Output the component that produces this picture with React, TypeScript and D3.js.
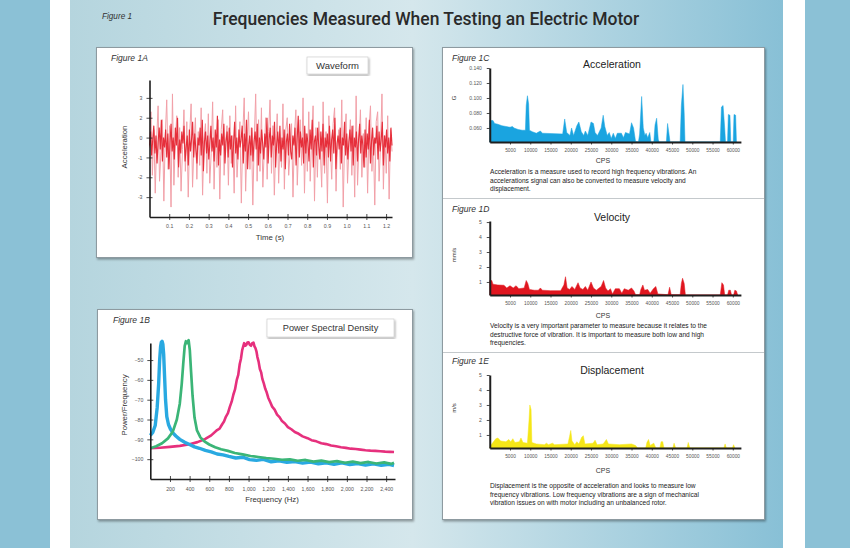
import React, { useRef, useEffect } from "react";
import * as d3 from "d3";

const FONT = "'Liberation Sans', Arial, Helvetica, sans-serif";

// Figure 1A - waveform (acceleration vs time), sampled evenly over the record
const waveDuration = 1.23;
const waveSpikes = [
  0.5, 2.3, -0.9, 1.4, -1.8, 0.9, 2.6, -1.2, 0.3, 1.9, -2.2, 1.1, 2.9, -0.6, 1.6, -2.5, 3.2, -1.4, 0.8, 2.1,
  -1.0, 1.5, -1.7, 0.4, 2.4, -0.7, 1.8, -2.0, 1.2, 2.7, -1.5, 0.6, 2.0, -1.1, 1.3, -0.4, 2.5, -1.9, 0.9, 1.7,
  -0.8, 2.2, -1.3, 0.2, 2.8, -1.6, 1.0, -0.5, 1.9, -2.1, 1.4, 2.4, -0.9, 0.7, 1.6, -1.4, 2.1, -0.3, 1.1, -1.8,
  2.6, -1.0, 0.5, 1.8, -2.3, 1.2, 3.0, -1.7, 0.8, 2.3, -0.6, 1.5, -2.4, 0.9, 3.2, -1.2, 1.9, -0.7, 2.5, -1.5,
  0.4, 2.0, -1.1, 1.3, 2.9, -0.8, 1.6, -1.9, 0.6, 2.2, -1.3, 1.0, -0.5, 2.7, -1.6, 1.4, 2.0, -0.9, 0.3, 1.7,
  -2.0, 1.1, 2.4, -1.4, 0.7, 1.9, -0.4, 3.0, -1.8, 1.2, -0.7, 2.3, -1.2, 0.9, 2.6, -2.2, 1.5, -1.0, 1.8, 0.4,
  -1.5, 2.8, -0.8, 1.3, -2.3, 2.1, 0.6, -1.1, 1.7, 2.5, -1.7, 0.8, 1.4, -0.6, 2.9, -2.5, 1.0, 2.2, -1.3, 0.5,
  1.9, -0.9, 1.6, -2.0, 3.1, -1.4, 0.7, 2.4, -1.0, 1.2, -0.5, 2.0, -1.8, 1.5, 2.6, -0.7, 0.9, -2.4, 1.8, 2.3,
  -1.2, 0.6, 3.2, -1.6, 1.1, -0.8, 2.1, -2.1, 1.4, 0.3,
];
const waveCore = [
  0.6, 1.3, 0.1, 0.9, 1.6, 0.2, 1.1, -0.3, 0.8, 1.5, 0.4, 1.9, -0.2, 1.0, 0.5, 1.4, 0.0, 1.2, -0.6, 0.7,
  1.7, 0.3, 1.0, -0.1, 1.5, 0.6, 2.0, -0.5, 0.9, 0.2, 1.3, 0.7, 1.6, -0.2, 0.5, 1.1, -0.4, 1.4, 0.3, 0.9,
  1.8, 0.0, 1.2, 0.4, -0.3, 1.0, 0.6, 1.5, 0.1, 1.9, -0.7, 0.8, 1.3, 0.2, 1.1, -0.1, 0.7, 1.6, 0.3, 1.0,
  -0.2, 1.4, 0.5, 2.1, -0.4, 0.9, 0.1, 1.2, 0.6, 1.7, -0.3, 0.8, 1.3, 0.0, 1.5, 0.4, 1.1, -0.5, 0.7, 1.8,
  0.2, 1.0, -0.1, 1.4, 0.5, 0.9, 1.6, -0.3, 1.2, 0.3, 1.9, -0.6, 0.6, 1.1, 0.1, 1.5, -0.2, 0.8, 1.3, 0.4,
  1.7, -0.4, 1.0, 0.2, 1.4, 0.7, -0.1, 1.2, 0.5, 2.0, -0.3, 0.9, 1.5, 0.0, 1.1, 0.6, 1.8, -0.5, 0.7, 1.3,
  0.2, 1.6, -0.2, 1.0, 0.4, 1.4, -0.6, 0.8, 1.2, 0.1, 1.7, 0.3, -0.1, 1.1, 0.6, 1.5, -0.4, 0.9, 2.1, 0.0,
  1.3, 0.5, 1.0, -0.3, 1.6, 0.2, 1.2, 0.7, -0.2, 1.4, 0.4, 1.9, -0.5, 0.8, 1.1, 0.1, 1.5, 0.6, -0.1, 1.3,
  0.3, 1.7, -0.4, 1.0, 0.5, 1.2, 0.0, 1.6, -0.2, 0.9, 1.4, 0.2, 2.0, -0.6, 0.7, 1.1, 0.4, 1.5, -0.3, 1.0,
  0.6, 1.8, 0.1, 1.2, -0.1, 0.8, 1.4, 0.3, 1.6, -0.4, 1.0, 0.5, 1.3, -0.2, 0.9, 1.7, 0.2, 1.1, 0.6, -0.5,
  1.4, 0.0, 1.2, 0.4, 1.9, -0.3, 0.8, 1.5, 0.1, 1.0, 0.7, 1.6, -0.1, 1.3, 0.3, 0.9, 1.8, -0.4, 1.1, 0.5,
  1.4, 0.2, 1.0, -0.2, 1.5, 0.6,
];
const waveTicksX = [0.1, 0.2, 0.3, 0.4, 0.5, 0.6, 0.7, 0.8, 0.9, 1.0, 1.1, 1.2];
const waveTicksY = [3, 2, 1, 0, -1, -2];
const waveTickLabelsY = ["3", "2", "0", "-1", "-2", "-3"];

// Figure 1B - power spectral density (dB/Hz)
const psdBlueHz = [0, 25, 50, 70, 85, 95, 105, 112, 120, 128, 136, 145, 155, 168, 185, 205, 230, 260, 300, 350,
  400, 450, 500, 560, 620, 680, 740, 800, 870, 940, 1010, 1080, 1150, 1230, 1310, 1390, 1470, 1550, 1630, 1710,
  1790, 1870, 1950, 2030, 2110, 2190, 2270, 2350, 2430, 2480];
const psdBlueDb = [-88, -86.5, -83, -74, -62, -50, -43, -41, -40.5, -42, -47, -58, -70, -78.5, -82.5, -84.8, -86.7, -88.3, -90, -91.5,
  -92.6, -93.8, -94.5, -95.6, -96.3, -97.4, -97.8, -98.6, -99.4, -99.0, -100.2, -100.6, -100.1, -101.3, -100.8, -101.6, -101.2, -102.0, -101.5, -102.3,
  -101.8, -102.6, -101.9, -102.7, -102.2, -103.0, -102.4, -103.1, -102.6, -103.2];
const psdGreenHz = [0, 60, 120, 180, 230, 270, 300, 320, 335, 350, 362, 375, 390, 402, 415, 430, 450, 475, 510, 550,
  600, 660, 720, 790, 860, 940, 1020, 1100, 1180, 1260, 1340, 1420, 1500, 1580, 1660, 1740, 1820, 1900, 1980, 2060,
  2140, 2220, 2300, 2380, 2450, 2480];
const psdGreenDb = [-94.5, -93.5, -92, -89.5, -86, -80, -72, -62, -52, -43, -40.5, -41.5, -40, -45, -56, -68, -79, -85.5, -89, -91,
  -92.6, -94, -95, -95.8, -96.9, -97.6, -98.4, -98.9, -99.4, -99.8, -100.3, -100.1, -100.8, -100.4, -101.2, -100.7, -101.5, -101.0, -101.8, -101.2,
  -102.0, -101.4, -102.2, -101.6, -102.4, -101.8];
const psdPinkHz = [0, 100, 200, 300, 400, 480, 560, 620, 680, 705, 730, 750, 770, 790, 810, 828, 845, 862, 880, 895,
  910, 922, 935, 945, 955, 965, 975, 988, 1000, 1012, 1025, 1038, 1050, 1060, 1070, 1080, 1090, 1102, 1115, 1128,
  1140, 1155, 1170, 1185, 1200, 1220, 1240, 1265, 1290, 1315, 1340, 1370, 1400, 1435, 1470, 1510, 1550, 1600, 1640, 1690,
  1740, 1790, 1840, 1890, 1940, 1990, 2040, 2090, 2140, 2190, 2240, 2290, 2340, 2390, 2440, 2480];
const psdPinkDb = [-94.5, -94.2, -93.8, -93.3, -92.5, -91.4, -89.8, -88, -85.3, -84.6, -82.5, -81.0, -78.5, -76.8, -73.5, -71.0, -67.5, -64.8, -60, -57.5,
  -52, -49.5, -45, -43.2, -41.5, -42.8, -42.5, -41.2, -41, -42.3, -42.8, -41.5, -41.2, -43.1, -44, -45.6, -48.5, -50.8, -54.5, -56.2,
  -59.5, -61.8, -64.5, -66.4, -69, -71.2, -73.5, -75.0, -77.5, -78.8, -80.8, -82.0, -83.8, -84.9, -86.3, -87.2, -88.5, -89.4, -90.4, -91.0,
  -92, -92.4, -93.1, -93.5, -94, -94.3, -94.7, -94.9, -95.2, -95.5, -95.7, -95.8, -96, -96.2, -96.3, -96.4];
const psdTicksX = [200, 400, 600, 800, 1000, 1200, 1400, 1600, 1800, 2000, 2200, 2400];
const psdTicksY = [-50, -60, -70, -80, -90, -100];

// Figure 1C - acceleration spectrum (G)
const accelCps = [0, 800, 1200, 2000, 3000, 4000, 5000, 5600, 6000, 7000, 8000, 8800, 9000, 9300, 9600, 9800, 10500, 11500, 12500, 13000,
  18000, 18500, 19000, 19800, 20200, 20700, 21500, 22000, 22600, 23200, 23600, 24200, 25000, 25600, 26000, 26600, 27500, 28000, 28400, 29000,
  29500, 30000, 30500, 31000, 31500, 32500, 33000, 33500, 34500, 35000, 35500, 36000, 36700, 37000, 37500, 37900, 38300, 38600, 39000, 39500,
  39800, 40500, 40800, 41200, 41600, 41800, 43600, 43900, 44300, 44500, 47000, 47300, 47700, 48000, 48200, 56900, 57200, 57600, 58000, 58200,
  58700, 58900, 59300, 59500, 60100, 60300, 60700, 60900];
const accelG = [0.070, 0.070, 0.066, 0.065, 0.063, 0.062, 0.061, 0.062, 0.060, 0.058, 0.057, 0.057, 0.090, 0.103, 0.092, 0.057, 0.055, 0.053, 0.056, 0.053,
  0.052, 0.072, 0.054, 0.050, 0.060, 0.050, 0.063, 0.068, 0.055, 0.050, 0.056, 0.050, 0.068, 0.066, 0.054, 0.050, 0.060, 0.077, 0.062, 0.050,
  0.054, 0.046, 0.053, 0.046, 0.053, 0.053, 0.047, 0.054, 0.052, 0.067, 0.060, 0.042, 0.0413, 0.052, 0.102, 0.060, 0.050, 0.053, 0.047, 0.054,
  0.0413, 0.0413, 0.064, 0.073, 0.045, 0.0413, 0.0413, 0.066, 0.050, 0.0413, 0.0413, 0.090, 0.118, 0.080, 0.0413, 0.0413, 0.088, 0.090, 0.060, 0.0413,
  0.0413, 0.078, 0.077, 0.0413, 0.0413, 0.078, 0.077, 0.0413];

// Figure 1D - velocity spectrum (mm/s)
const velCps = [0, 500, 800, 2000, 3500, 4200, 5000, 5800, 6500, 7200, 8500, 9000, 9400, 9800, 11000, 12000, 12500, 13000, 15000, 17500,
  18300, 18700, 19100, 19700, 20300, 21000, 21800, 22300, 23000, 23600, 24200, 25000, 25600, 26300, 27500, 28100, 28600, 29200, 29800, 30300,
  31000, 32000, 32600, 33200, 34200, 35000, 35600, 36000, 37000, 37300, 37800, 38200, 39000, 39600, 40400, 41000, 41500, 44000, 44400, 44800,
  47000, 47300, 47600, 48000, 48300, 56900, 57300, 57700, 58000, 58700, 59000, 59400, 59700, 60200, 60500, 60900, 61200];
const velMms = [1.1, 1.1, 0.85, 0.8, 0.78, 0.6, 0.75, 0.6, 0.75, 0.55, 0.6, 1.1, 0.9, 0.5, 0.45, 0.45, 0.6, 0.45, 0.42, 0.42,
  0.8, 1.35, 0.6, 0.5, 0.7, 0.5, 0.95, 0.6, 0.5, 0.7, 0.45, 1.0, 0.6, 0.45, 0.7, 1.1, 0.6, 0.4, 0.55, 0.2,
  0.55, 0.55, 0.25, 0.55, 0.45, 0.6, 0.4, 0.15, 0.15, 0.5, 0.8, 0.45, 0.5, 0.25, 0.55, 0.7, 0.2, 0.15, 0.65, 0.15,
  0.15, 0.9, 1.25, 0.9, 0.13, 0.13, 0.95, 0.8, 0.13, 0.13, 0.45, 0.45, 0.13, 0.13, 0.45, 0.4, 0.13];

// Figure 1E - displacement spectrum (m/s)
const dispCps = [0, 500, 1500, 2000, 2700, 4000, 4700, 5200, 5700, 6200, 7300, 7700, 8200, 9300, 9700, 9900, 10200, 10400, 11500, 13500,
  14000, 14500, 15500, 16000, 19300, 19700, 20000, 20300, 21000, 21500, 22000, 22700, 23100, 23500, 25500, 26000, 26500, 28000, 28800, 29300,
  32000, 35000, 36000, 36500, 38500, 38800, 39200, 39600, 40500, 41000, 42000, 42300, 42700, 43000, 45200, 45500, 45900, 48700, 49000, 49400,
  57800, 58100, 58400, 59900, 60200, 60500];
const dispMs = [0.15, 0.4, 0.75, 0.8, 0.6, 0.55, 0.7, 0.55, 0.75, 0.5, 0.55, 0.8, 0.5, 0.45, 2.0, 3.0, 2.7, 0.5, 0.4, 0.35,
  0.45, 0.35, 0.45, 0.35, 0.4, 0.9, 1.3, 0.6, 0.35, 0.55, 0.4, 0.85, 0.95, 0.4, 0.45, 0.65, 0.35, 0.4, 0.7, 0.4,
  0.35, 0.4, 0.3, 0.13, 0.13, 0.5, 0.7, 0.3, 0.45, 0.13, 0.13, 0.55, 0.55, 0.13, 0.13, 0.45, 0.13, 0.13, 0.5, 0.13,
  0.13, 0.4, 0.13, 0.13, 0.35, 0.13];

const cpsTicks = [5000, 10000, 15000, 20000, 25000, 30000, 35000, 40000, 45000, 50000, 55000, 60000];
const accelTicks = [0.06, 0.08, 0.1, 0.12, 0.14];
const unitTicks = [1, 2, 3, 4, 5];

const accelText = [
  "Acceleration is a measure used to record high frequency vibrations. An",
  "accelerations signal can also be converted to measure velocity and",
  "displacement.",
];
const velText = [
  "Velocity is a very important parameter to measure because it relates to the",
  "destructive force of vibration. It is important to measure both low and high",
  "frequencies.",
];
const dispText = [
  "Displacement is the opposite of acceleration and looks to measure low",
  "frequency vibrations. Low frequency vibrations are a sign of mechanical",
  "vibration issues on with motor including an unbalanced rotor.",
];

function App() {
  const ref = useRef<SVGSVGElement>(null);

  useEffect(() => {
    const svg = d3.select(ref.current);
    svg.selectAll("*").remove();

    const defs = svg.append("defs");
    const grad = defs.append("linearGradient").attr("id", "panelGrad")
      .attr("x1", "0").attr("x2", "1").attr("y1", "0").attr("y2", "0");
    grad.append("stop").attr("offset", "0").attr("stop-color", "#b5d5de");
    grad.append("stop").attr("offset", "0.48").attr("stop-color", "#d5e7ec");
    grad.append("stop").attr("offset", "1").attr("stop-color", "#88c0d6");
    const shadow = defs.append("filter").attr("id", "shadow")
      .attr("x", "-5%").attr("y", "-5%").attr("width", "112%").attr("height", "115%");
    shadow.append("feDropShadow").attr("dx", 1).attr("dy", 1.5).attr("stdDeviation", 1.2)
      .attr("flood-color", "#000").attr("flood-opacity", 0.35);

    // page background
    svg.append("rect").attr("width", 850).attr("height", 548).attr("fill", "#ffffff");
    svg.append("rect").attr("x", 0).attr("width", 50).attr("height", 548).attr("fill", "#8bc1d6");
    svg.append("rect").attr("x", 805).attr("width", 45).attr("height", 548).attr("fill", "#8bc1d6");
    svg.append("rect").attr("x", 70).attr("width", 713).attr("height", 548).attr("fill", "url(#panelGrad)");

    const txt = (sel: any, x: number, y: number, s: string, size: number, o: any = {}) =>
      sel.append("text").attr("x", x).attr("y", y).attr("font-family", o.family || FONT)
        .attr("font-size", size).attr("fill", o.fill || "#222")
        .attr("text-anchor", o.anchor || "start")
        .attr("font-style", o.italic ? "italic" : null)
        .attr("font-weight", o.weight || null)
        .text(s);

    txt(svg, 102, 18.5, "Figure 1", 8.2, { italic: true, fill: "#333" });
    txt(svg, 426, 25, "Frequencies Measured When Testing an Electric Motor", 17.5,
      { anchor: "middle", fill: "#2a2a2a", weight: 500, family: "Roboto, 'Liberation Sans', Arial, sans-serif" });

    const box = (x: number, y: number, w: number, h: number) =>
      svg.append("rect").attr("x", x).attr("y", y).attr("width", w).attr("height", h)
        .attr("fill", "#fff").attr("stroke", "#8d9aa0").attr("stroke-width", 1).attr("filter", "url(#shadow)");
    box(96.5, 47.5, 316, 210);
    box(97.5, 309.5, 315, 210);
    box(442.5, 47.5, 322, 472);
    svg.append("line").attr("x1", 443).attr("x2", 764).attr("y1", 198.5).attr("y2", 198.5).attr("stroke", "#c4c9cc");
    svg.append("line").attr("x1", 443).attr("x2", 764).attr("y1", 352.5).attr("y2", 352.5).attr("stroke", "#c4c9cc");

    const tag = (x: number, y: number, w: number, h: number, s: string, size: number) => {
      svg.append("rect").attr("x", x).attr("y", y).attr("width", w).attr("height", h)
        .attr("fill", "#fff").attr("stroke", "#c8c8c8").attr("stroke-width", 0.6).attr("filter", "url(#shadow)");
      txt(svg, x + w / 2, y + h / 2 + size * 0.36, s, size, { anchor: "middle", fill: "#333" });
    };

    const styleAxis = (a: any, size: number, width = 1.6) => {
      a.select(".domain").attr("stroke", "#1e1e1e").attr("stroke-width", width);
      a.selectAll(".tick line").attr("stroke", "#1e1e1e").attr("stroke-width", 0.8);
      a.selectAll(".tick text").attr("font-family", FONT).attr("font-size", size).attr("fill", "#555");
    };

    // ---------- Figure 1A ----------
    txt(svg, 111, 60.5, "Figure 1A", 8.5, { italic: true, fill: "#333" });
    tag(307, 57, 61, 17, "Waveform", 9.5);

    const xW = d3.scaleLinear().domain([0, waveDuration]).range([149.5, 392]);
    const yW = d3.scaleLinear().domain([3.9, -3.0]).range([80, 217]);
    const spikeDt = waveDuration / (waveSpikes.length - 1);
    const coreDt = waveDuration / (waveCore.length - 1);
    svg.append("path").datum(waveSpikes).attr("fill", "none").attr("stroke", "#f2a0a8").attr("stroke-width", 1)
      .attr("d", d3.line<number>().x((d, i) => xW(i * spikeDt)).y((d) => yW(d)));
    svg.append("path").datum(waveCore).attr("fill", "none").attr("stroke", "#e62f3b").attr("stroke-width", 1.15)
      .attr("d", d3.line<number>().x((d, i) => xW(i * coreDt)).y((d) => yW(d)));

    const axWy = svg.append("g").attr("transform", `translate(${xW(0)},0)`)
      .call(d3.axisLeft(yW).tickValues(waveTicksY).tickFormat((d, i) => waveTickLabelsY[i]).tickSizeInner(3).tickSizeOuter(0).tickPadding(4));
    axWy.selectAll(".tick line").attr("x1", 3);
    styleAxis(axWy, 5.2);
    const axWx = svg.append("g").attr("transform", `translate(0,${yW(-3.0)})`)
      .call(d3.axisBottom(xW).tickValues(waveTicksX).tickFormat(d3.format(".1f")).tickSizeInner(3).tickSizeOuter(0).tickPadding(4));
    axWx.selectAll(".tick line").attr("y1", -3);
    styleAxis(axWx, 5.2);
    txt(svg, 270, 240, "Time (s)", 7.8, { anchor: "middle", fill: "#333" });
    txt(svg, 0, 0, "Acceleration", 7.8, { anchor: "middle", fill: "#333" })
      .attr("transform", "translate(127,147) rotate(-90)");

    // ---------- Figure 1B ----------
    txt(svg, 113, 323, "Figure 1B", 8.5, { italic: true, fill: "#333" });
    tag(267, 319, 127, 18, "Power Spectral Density", 9.2);

    const xP = d3.scaleLinear().domain([0, 2490]).range([150.3, 395]);
    const yP = d3.scaleLinear().domain([-41.4, -110]).range([343, 479]);
    const psdLine = d3.line<[number, number]>().x((d) => xP(d[0])).y((d) => yP(d[1]));
    const series: [number[], number[], string, number][] = [
      [psdPinkHz, psdPinkDb, "#e6307d", 2.6],
      [psdBlueHz, psdBlueDb, "#29a9e1", 3.4],
      [psdGreenHz, psdGreenDb, "#3bb577", 2.7],
    ];
    series.forEach(([hz, db, color, w]) => {
      svg.append("path").datum(hz.map((f, i) => [f, db[i]] as [number, number]))
        .attr("fill", "none").attr("stroke", color).attr("stroke-width", w)
        .attr("stroke-linejoin", "round").attr("d", psdLine);
    });

    const axPy = svg.append("g").attr("transform", `translate(${xP(0)},0)`)
      .call(d3.axisLeft(yP).tickValues(psdTicksY).tickSizeInner(3).tickSizeOuter(0).tickPadding(4));
    axPy.selectAll(".tick line").attr("x1", 3);
    styleAxis(axPy, 5.2);
    const axPx = svg.append("g").attr("transform", `translate(0,${yP(-110)})`)
      .call(d3.axisBottom(xP).tickValues(psdTicksX).tickSizeInner(3).tickSizeOuter(0).tickPadding(5));
    axPx.selectAll(".tick line").attr("y1", -3);
    styleAxis(axPx, 5.2);
    txt(svg, 272, 502, "Frequency (Hz)", 7.8, { anchor: "middle", fill: "#333" });
    txt(svg, 0, 0, "Power/Frequency", 7.8, { anchor: "middle", fill: "#333" })
      .attr("transform", "translate(127,405) rotate(-90)");

    // ---------- Figures 1C - 1E ----------
    const xR = d3.scaleLinear().domain([0, 62000]).range([489.75, 740.9]);

    const spectrum = (opts: any) => {
      const { fig, figY, title, titleY, cps, vals, y, ticks, fmt, unit, unitY, color, lines, cpsY, textY } = opts;
      txt(svg, 452, figY, fig, 8.5, { italic: true, fill: "#333" });
      txt(svg, 612, titleY, title, 10.5, { anchor: "middle", fill: "#222" });
      const base = y.range()[0];
      svg.append("path").datum(cps.map((c: number, i: number) => [c, vals[i]]))
        .attr("fill", color).attr("stroke", color).attr("stroke-width", 0.5)
        .attr("d", d3.area<[number, number]>().x((d) => xR(d[0])).y0(base).y1((d) => y(d[1])));
      const ay = svg.append("g").attr("transform", `translate(${xR(0)},0)`)
        .call(d3.axisLeft(y).tickValues(ticks).tickFormat(fmt).tickSizeInner(3).tickSizeOuter(0).tickPadding(5));
      styleAxis(ay, 5, 2);
      const ax = svg.append("g").attr("transform", `translate(0,${base})`)
        .call(d3.axisBottom(xR).tickValues(cpsTicks).tickFormat(d3.format("d")).tickSizeInner(2.5).tickSizeOuter(0).tickPadding(4));
      styleAxis(ax, 4.8, 2);
      txt(svg, 603, cpsY, "CPS", 7, { anchor: "middle", fill: "#333" });
      txt(svg, 0, 0, unit, 6, { anchor: "middle", fill: "#333" })
        .attr("transform", `translate(456,${unitY}) rotate(-90)`);
      lines.forEach((s: string, i: number) => txt(svg, 490, textY + i * 8.6, s, 6.6, { fill: "#222" }));
    };

    spectrum({
      fig: "Figure 1C", figY: 60.5, title: "Acceleration", titleY: 68,
      cps: accelCps, vals: accelG, y: d3.scaleLinear().domain([0.0413, 0.14]).range([142, 68]),
      ticks: accelTicks, fmt: d3.format(".3f"), unit: "G", unitY: 98, color: "#1aa4e0",
      lines: accelText, cpsY: 162.5, textY: 174,
    });
    spectrum({
      fig: "Figure 1D", figY: 211.5, title: "Velocity", titleY: 221,
      cps: velCps, vals: velMms, y: d3.scaleLinear().domain([0.13, 5.07]).range([295, 221]),
      ticks: unitTicks, fmt: d3.format("d"), unit: "mm/s", unitY: 255, color: "#e0161f",
      lines: velText, cpsY: 318, textY: 328,
    });
    spectrum({
      fig: "Figure 1E", figY: 364, title: "Displacement", titleY: 374,
      cps: dispCps, vals: dispMs, y: d3.scaleLinear().domain([0.13, 5.0]).range([448, 375]),
      ticks: unitTicks, fmt: d3.format("d"), unit: "m/s", unitY: 408, color: "#f5e617",
      lines: dispText, cpsY: 473, textY: 488,
    });
  }, []);

  return (
    <svg ref={ref} width={850} height={548} style={{ position: "absolute", left: 0, top: 0, display: "block" }} />
  );
}

export default App;
